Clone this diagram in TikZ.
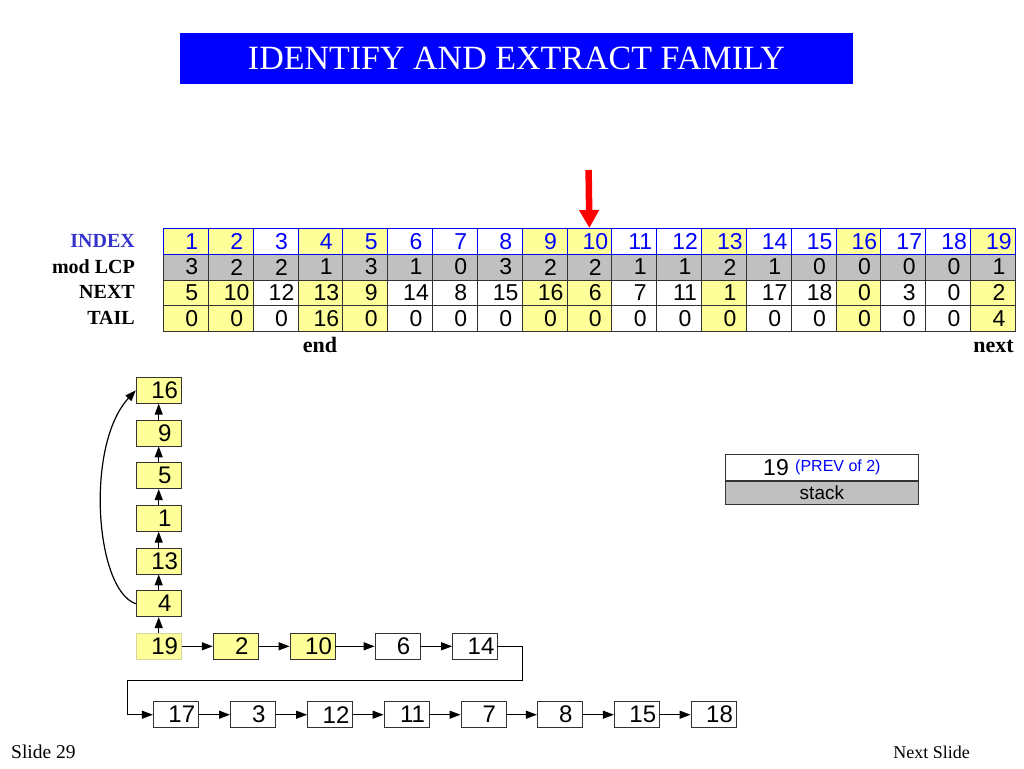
\documentclass[tikz,border=0pt]{standalone}
\usepackage{xcolor}
\usepackage{fontspec}
\setmainfont{Liberation Serif}
\setsansfont{Liberation Sans}
\usepackage{tikz}
\usetikzlibrary{arrows.meta}

\definecolor{famyellow}{RGB}{255,255,153}
\definecolor{lcpgray}{RGB}{192,192,192}
\definecolor{idxblue}{RGB}{0,0,255}
\definecolor{lblblue}{RGB}{51,51,204}
\definecolor{edgegray}{RGB}{51,51,51}

\begin{document}
\begin{tikzpicture}[x=1pt,y=-1pt,
  cell/.style={draw=edgegray,line width=0.8pt,minimum width=44.84pt,minimum height=25.75pt,inner sep=0pt,anchor=north west,font=\fontsize{23}{23}\sffamily,execute at begin node={\hspace*{12pt}}},
  idxcell/.style={cell,draw=idxblue,text=idxblue},
  rowlbl/.style={anchor=east,inner sep=0pt,font=\fontsize{20}{20}\bfseries},
  famnode/.style={draw=edgegray,line width=0.8pt,minimum width=45pt,minimum height=26pt,inner sep=0pt,font=\fontsize{24}{24}\sffamily,execute at begin node={\hspace*{12pt}}},
  stkcell/.style={draw=edgegray,line width=0.8pt,minimum width=193pt,inner sep=0pt,anchor=north west,font=\fontsize{23}{23}\sffamily},
  link/.style={-{Triangle[length=11pt,width=8pt]},line width=1.2pt},
  ptrarrow/.style={-{Triangle[length=18pt,width=19pt]},line width=6.5pt,draw=red}]
\path[use as bounding box,fill=white] (0,0) rectangle (1024,768);
%Title
\node[fill=idxblue,minimum width=673pt,minimum height=51pt,inner sep=0pt,text=white,font=\fontsize{34}{34}\selectfont] (title) at (516.5,58.8) {IDENTIFY AND EXTRACT FAMILY};
%Table
\foreach \i/\lcp/\nx/\tl/\fc in {1/3/5/0/famyellow, 2/2/10/0/famyellow, 3/2/12/0/white, 4/1/13/16/famyellow, 5/3/9/0/famyellow, 6/1/14/0/white, 7/0/8/0/white, 8/3/15/0/white, 9/2/16/0/famyellow, 10/2/6/0/famyellow, 11/1/7/0/white, 12/1/11/0/white, 13/2/1/0/famyellow, 14/1/17/0/white, 15/0/18/0/white, 16/0/0/0/famyellow, 17/0/3/0/white, 18/0/0/0/white, 19/1/2/4/famyellow}
{
  \node[cell,fill=lcpgray] (lcp\i) at ({163+(\i-1)*44.84},253.75) {\lcp};
  \node[cell,fill=\fc] (nxt\i) at ({163+(\i-1)*44.84},279.5) {\nx};
  \node[cell,fill=\fc] (tl\i) at ({163+(\i-1)*44.84},305.25) {\tl};
  \node[idxcell,fill=\fc] (idx\i) at ({163+(\i-1)*44.84},228) {\i};
}
\node[rowlbl,text=lblblue] (lblIdx) at (135,241) {INDEX};
\node[rowlbl] (lblLcp) at (135,266.6) {mod LCP};
\node[rowlbl] (lblNxt) at (135,292.4) {NEXT};
\node[rowlbl] (lblTl) at (135,318) {TAIL};
\node[anchor=base,inner sep=0pt,font=\fontsize{22}{22}\bfseries] (lblEnd) at (319.9,352) {end};
\node[anchor=base east,inner sep=0pt,font=\fontsize{22}{22}\bfseries] (lblNext) at (1014,352) {next};
%Pointer
\coordinate (ptr) at (588.6,170);
\draw[ptrarrow] (ptr) -- (idx10.north);
%Family stack
\node[famnode,fill=famyellow] (s16) at (158.7,390.3) {16};
\node[famnode,fill=famyellow] (s9) at (158.7,433) {9};
\node[famnode,fill=famyellow] (s5) at (158.7,475.7) {5};
\node[famnode,fill=famyellow] (s1) at (158.7,518.3) {1};
\node[famnode,fill=famyellow] (s13) at (158.7,561) {13};
\node[famnode,fill=famyellow] (s4) at (158.7,603.7) {4};
\node[famnode,fill=famyellow,draw={rgb,255:red,214;green,214;blue,160}] (s19) at (158.7,646.3) {19};
\draw[link] (s19) -- (s4);
\draw[link] (s4) -- (s13);
\draw[link] (s13) -- (s1);
\draw[link] (s1) -- (s5);
\draw[link] (s5) -- (s9);
\draw[link] (s9) -- (s16);
\draw[link] (s4.west) .. controls (95,590) and (85,445) .. (s16.west);
%Chain
\node[famnode,fill=famyellow] (b2) at (235.7,646.3) {2};
\node[famnode,fill=famyellow] (b10) at (312.5,646.3) {10};
\node[famnode,fill=white] (b6) at (397.5,646.3) {6};
\node[famnode,fill=white] (b14) at (475,646.3) {14};
\node[famnode,fill=white] (b17) at (175.8,714.7) {17};
\node[famnode,fill=white] (b3) at (252.9,714.7) {3};
\node[famnode,fill=white] (b12) at (330,714.7) {12};
\node[famnode,fill=white] (b11) at (406.5,714.7) {11};
\node[famnode,fill=white] (b7) at (483.4,714.7) {7};
\node[famnode,fill=white] (b8) at (559.8,714.7) {8};
\node[famnode,fill=white] (b15) at (636.8,714.7) {15};
\node[famnode,fill=white] (b18) at (713.5,714.7) {18};
\draw[link] (s19) -- (b2);
\draw[link] (b2) -- (b10);
\draw[link] (b10) -- (b6);
\draw[link] (b6) -- (b14);
\coordinate (turnR) at (522.7,680.7);
\coordinate (turnL) at (127.3,680.7);
\draw[link] (b14.east) -| (turnR) -- (turnL) |- (b17.west);
\draw[link] (b17) -- (b3);
\draw[link] (b3) -- (b12);
\draw[link] (b12) -- (b11);
\draw[link] (b11) -- (b7);
\draw[link] (b7) -- (b8);
\draw[link] (b8) -- (b15);
\draw[link] (b15) -- (b18);
%Stack
\node[stkcell,fill=white,minimum height=25.7pt] (stkTop) at (725,454.3) {19 \raisebox{4pt}{\fontsize{16}{16}\selectfont\color{idxblue}(PREV of 2)}};
\node[stkcell,fill=lcpgray,minimum height=23.3pt,font=\fontsize{19}{19}\sffamily] (stkBot) at (stkTop.south west) {stack};
%Footer
\node[anchor=base west,inner sep=0pt,font=\fontsize{19.5}{19.5}\selectfont] (slideNo) at (11,758) {Slide 29};
\node[anchor=base east,inner sep=0pt,font=\fontsize{18}{18}\selectfont] (nextSlide) at (970,758) {Next Slide};
\end{tikzpicture}
\end{document}
